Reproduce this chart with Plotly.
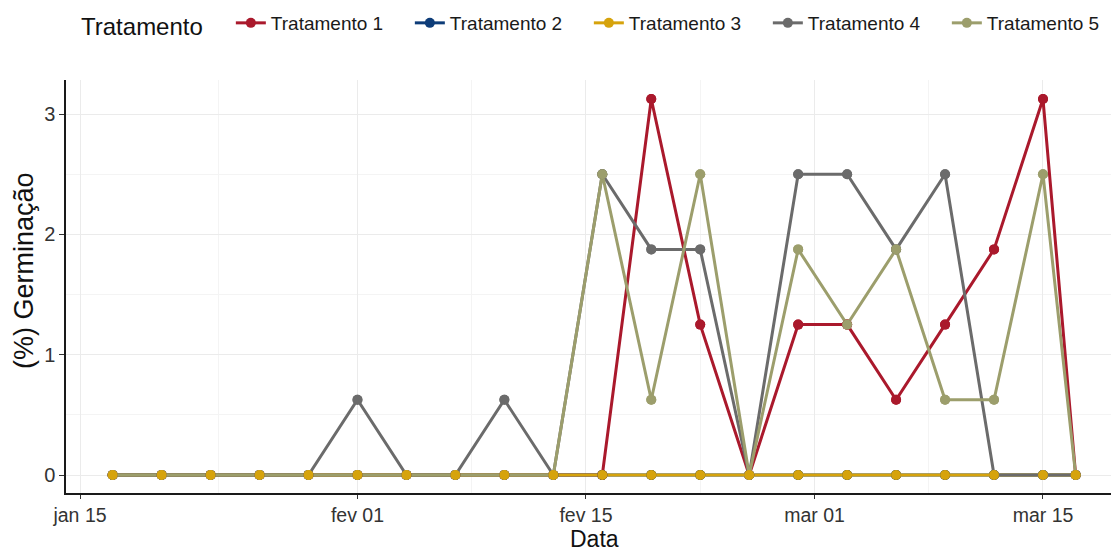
import plotly.graph_objects as go

dates = ["2021-01-17", "2021-01-20", "2021-01-23", "2021-01-26", "2021-01-29",
         "2021-02-01", "2021-02-04", "2021-02-07", "2021-02-10", "2021-02-13",
         "2021-02-16", "2021-02-19", "2021-02-22", "2021-02-25", "2021-02-28",
         "2021-03-03", "2021-03-06", "2021-03-09", "2021-03-12", "2021-03-15",
         "2021-03-17"]

trat1 = [0, 0, 0, 0, 0, 0, 0, 0, 0, 0, 0, 3.125, 1.25, 0, 1.25, 1.25, 0.625, 1.25, 1.875, 3.125, 0]
trat2 = [0, 0, 0, 0, 0, 0, 0, 0, 0, 0, 0, 0, 0, 0, 0, 0, 0, 0, 0, 0, 0]
trat3 = [0, 0, 0, 0, 0, 0, 0, 0, 0, 0, 0, 0, 0, 0, 0, 0, 0, 0, 0, 0, 0]
trat4 = [0, 0, 0, 0, 0, 0.625, 0, 0, 0.625, 0, 2.5, 1.875, 1.875, 0, 2.5, 2.5, 1.875, 2.5, 0, 0, 0]
trat5 = [0, 0, 0, 0, 0, 0, 0, 0, 0, 0, 2.5, 0.625, 2.5, 0, 1.875, 1.25, 1.875, 0.625, 0.625, 2.5, 0]

names = ["Tratamento 1", "Tratamento 2", "Tratamento 3", "Tratamento 4", "Tratamento 5"]
series = [trat1, trat2, trat3, trat4, trat5]
colors = ["#AA192C", "#0D3C78", "#D6A30C", "#6B6B6B", "#9C9E6C"]

x_tickvals = ["2021-01-15", "2021-02-01", "2021-02-15", "2021-03-01", "2021-03-15"]
x_ticktext = ["jan 15", "fev 01", "fev 15", "mar 01", "mar 15"]
x_minor = ["2021-01-23 12:00", "2021-02-08", "2021-02-22", "2021-03-08"]
y_tickvals = [0, 1, 2, 3]
y_minor = [0.5, 1.5, 2.5]

FONT = "Liberation Sans, Arial, sans-serif"
W, H = 1111, 551
L, R, T, B = 66, 0, 80, 58

fig = go.Figure()
# lines first (with legend)
for name, ys, c in zip(names, series, colors):
    fig.add_trace(go.Scatter(x=dates, y=ys, name=name, mode="lines+markers",
                             line=dict(color=c, width=3),
                             marker=dict(color=c, size=10),
                             legendgroup=name))
# points on top (yellow last)
for i in [0, 1, 3, 4, 2]:
    fig.add_trace(go.Scatter(x=dates, y=series[i], mode="markers",
                             marker=dict(color=colors[i], size=10),
                             showlegend=False, legendgroup=names[i],
                             hoverinfo="skip"))

plot_h = H - T - B
fig.update_layout(
    width=W, height=H,
    margin=dict(l=L, r=R, t=T, b=B),
    plot_bgcolor="white", paper_bgcolor="white",
    font=dict(family=FONT, color="#1a1a1a"),
    legend=dict(orientation="h", xref="container", yref="container",
                x=79 / W, y=1 - 25 / H, xanchor="left", yanchor="middle",
                title=dict(text="Tratamento\u00a0\u00a0\u00a0", font=dict(size=24, color="#111")),
                font=dict(size=19, color="#1a1a1a"),
                entrywidth=134, entrywidthmode="pixels",
                itemwidth=30, bgcolor="rgba(0,0,0,0)"),
    xaxis=dict(
        type="date", automargin=False,
        range=["2021-01-14 03:25", "2021-03-19 04:00"],
        tickvals=x_tickvals, ticktext=x_ticktext,
        tickfont=dict(size=19.5, color="#333333"),
        showgrid=True, gridcolor="#EBEBEB", gridwidth=1.2,
        minor=dict(tickvals=x_minor, showgrid=True, gridcolor="#F4F4F4", gridwidth=0.8, ticks=""),
        showline=True, linecolor="#1a1a1a", linewidth=1.5,
        ticks="outside", ticklen=4, tickcolor="#333333", tickwidth=1.2,
        zeroline=False,
    ),
    yaxis=dict(
        automargin=False,
        range=[-0.1496, 3.283],
        tickvals=y_tickvals,
        tickfont=dict(size=20, color="#333333"),
        showgrid=True, gridcolor="#EBEBEB", gridwidth=1.2,
        minor=dict(tickvals=y_minor, showgrid=True, gridcolor="#F4F4F4", gridwidth=0.8, ticks=""),
        showline=True, linecolor="#1a1a1a", linewidth=1.5,
        ticks="outside", ticklen=5, tickcolor="#333333", tickwidth=1.2,
        zeroline=False,
    ),
    annotations=[
        dict(text="Data", xref="paper", yref="paper",
             x=(594 - L) / (W - L - R), y=0, yshift=-(539 - (H - B)),
             xanchor="center", yanchor="middle", showarrow=False,
             font=dict(size=23, color="#111")),
        dict(text="(%) Germinação", xref="paper", yref="paper",
             x=0, xshift=24 - L, y=(H - B - 271) / plot_h,
             xanchor="center", yanchor="middle", textangle=-90, showarrow=False,
             font=dict(size=27, color="#111")),
    ],
)

fig.write_html("out.html", config={"displayModeBar": False},
               post_script="document.body.style.margin='0';document.body.style.overflow='hidden';")
